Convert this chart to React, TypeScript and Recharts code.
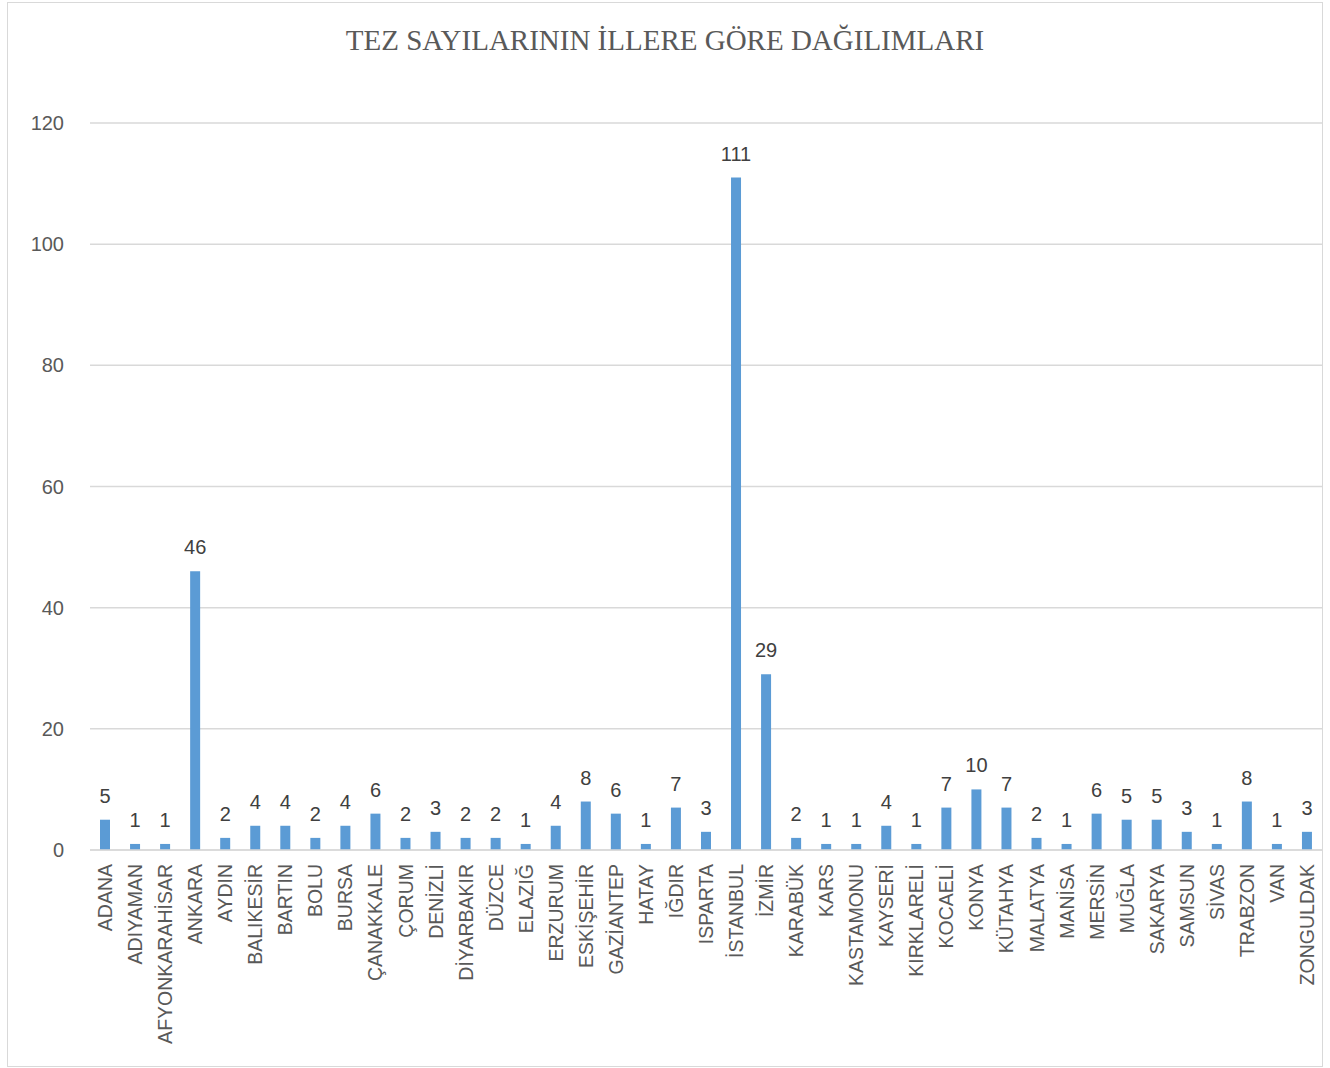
import React from "react";
import { BarChart, Bar, XAxis, YAxis, CartesianGrid, LabelList } from "recharts";

const provinces = [
  "ADANA", "ADIYAMAN", "AFYONKARAHİSAR", "ANKARA", "AYDIN", "BALIKESİR", "BARTIN", "BOLU", "BURSA",
  "ÇANAKKALE", "ÇORUM", "DENİZLİ", "DİYARBAKIR", "DÜZCE", "ELAZIĞ", "ERZURUM", "ESKİŞEHİR", "GAZİANTEP",
  "HATAY", "IĞDIR", "ISPARTA", "İSTANBUL", "İZMİR", "KARABÜK", "KARS", "KASTAMONU", "KAYSERİ",
  "KIRKLARELİ", "KOCAELİ", "KONYA", "KÜTAHYA", "MALATYA", "MANİSA", "MERSİN", "MUĞLA", "SAKARYA",
  "SAMSUN", "SİVAS", "TRABZON", "VAN", "ZONGULDAK",
];
const thesisCounts = [
  5, 1, 1, 46, 2, 4, 4, 2, 4,
  6, 2, 3, 2, 2, 1, 4, 8, 6,
  1, 7, 3, 111, 29, 2, 1, 1, 4,
  1, 7, 10, 7, 2, 1, 6, 5, 5,
  3, 1, 8, 1, 3,
];
const yTicks = [0, 20, 40, 60, 80, 100, 120];
const title = "TEZ SAYILARININ İLLERE GÖRE DAĞILIMLARI";

const data = provinces.map((name, i) => ({ name, value: thesisCounts[i] }));

const FONT = "'Liberation Sans', Arial, sans-serif";
const TEXT = "#595959";

const XTick = (props: any) => {
  const { x, y, payload } = props;
  return (
    <text
      x={0}
      y={0}
      transform={`translate(${x + 7},${y + 6}) rotate(-90)`}
      textAnchor="end"
      fontFamily={FONT}
      fontSize={19.5}
      fill={TEXT}
    >
      {payload.value}
    </text>
  );
};

export default function App() {
  return (
    <div
      style={{
        position: "absolute",
        left: 7,
        top: 2,
        width: 1314,
        height: 1063,
        border: "1px solid #d9d9d9",
        background: "#fff",
      }}
    >
      <div
        style={{
          position: "absolute",
          left: 0,
          top: 21,
          width: "100%",
          textAlign: "center",
          fontFamily: "'Liberation Serif', 'Times New Roman', serif",
          fontSize: 29,
          color: TEXT,
          lineHeight: "32px",
        }}
      >
        {title}
      </div>
      <BarChart
        width={1314}
        height={1063}
        data={data}
        margin={{ top: 120, right: 0, bottom: 0, left: 0 }}
        barCategoryGap={0}
      >
        <CartesianGrid vertical={false} stroke="#d9d9d9" strokeWidth={1.5} />
        <XAxis
          dataKey="name"
          interval={0}
          height={216}
          axisLine={{ stroke: "#d9d9d9", strokeWidth: 1.5 }}
          tickLine={false}
          tick={<XTick />}
        />
        <YAxis
          width={82}
          domain={[0, 120]}
          ticks={yTicks}
          axisLine={false}
          tickLine={false}
          tick={{ fontFamily: FONT, fontSize: 20, fill: TEXT }}
          tickMargin={20}
        />
        <Bar dataKey="value" fill="#5b9bd5" barSize={10} isAnimationActive={false}>
          <LabelList
            dataKey="value"
            position="top"
            offset={17}
            fontFamily={FONT}
            fontSize={20}
            fill="#404040"
          />
        </Bar>
      </BarChart>
    </div>
  );
}
